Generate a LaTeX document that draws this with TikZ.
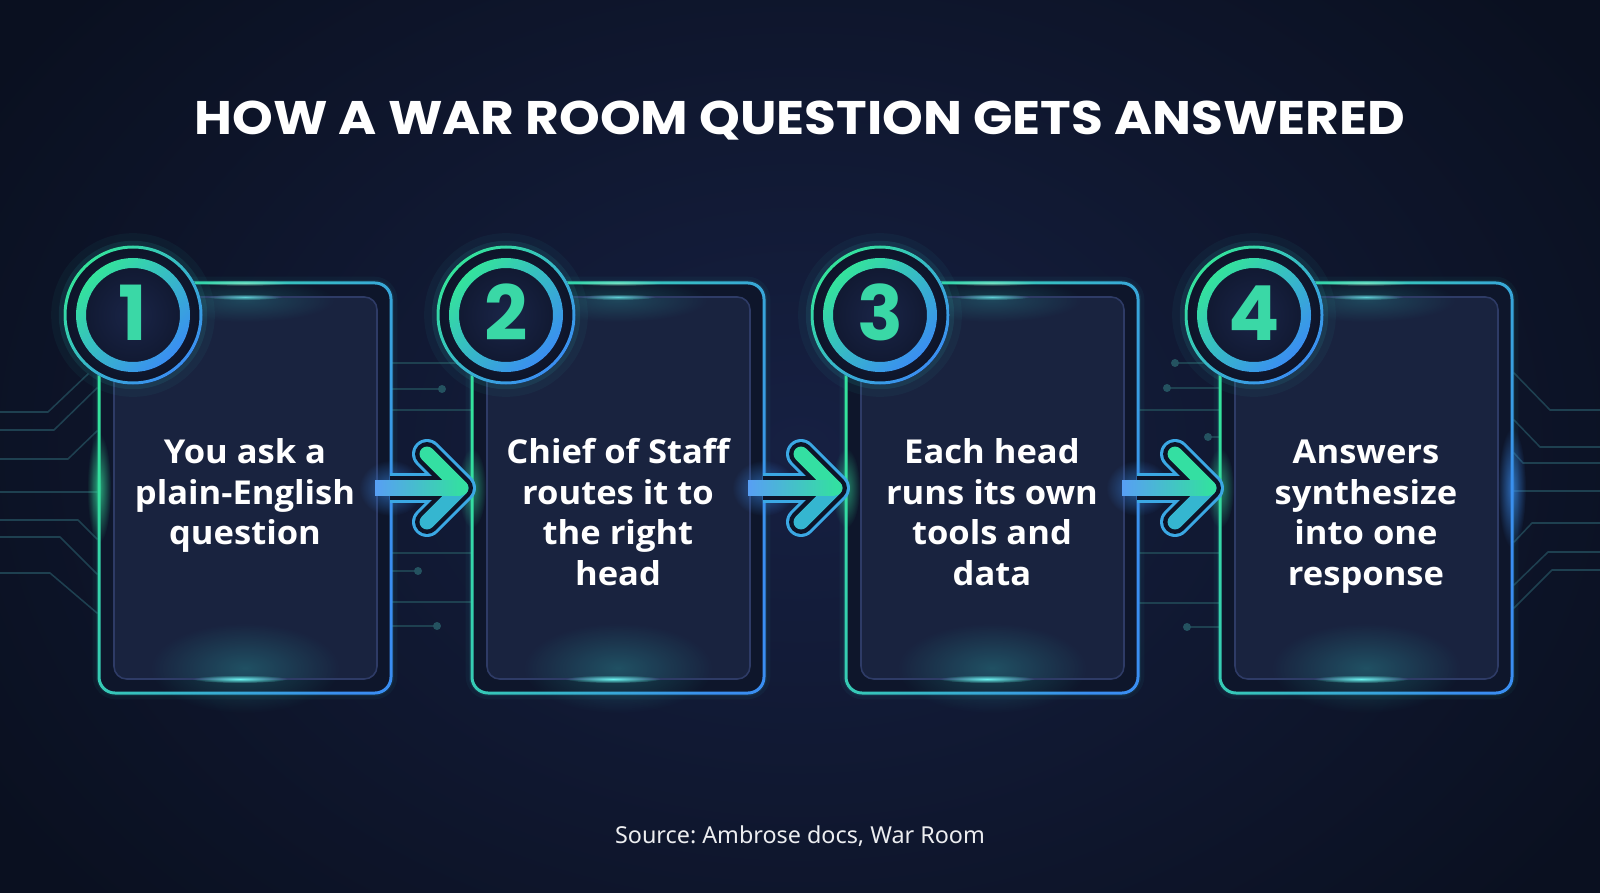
\documentclass[tikz,border=0pt]{standalone}
\usepackage{fontspec}
\setmainfont{Noto Sans}
\newfontfamily\titlefont{Poppins}
\newfontfamily\cardfont{Open Sans}[FakeStretch=1.05]
\usetikzlibrary{fadings}
\frenchspacing
\definecolor{bgin}{HTML}{162042}
\definecolor{bgout}{HTML}{0A1020}
\definecolor{cgreen}{HTML}{34E39C}
\definecolor{cblue}{HTML}{3A8EF2}
\definecolor{cteal}{HTML}{33C7C2}
\definecolor{panelc}{HTML}{19233F}
\definecolor{panelline}{HTML}{2E3B66}
\definecolor{framec}{HTML}{0E162B}
\definecolor{circuitc}{HTML}{1E4050}
\definecolor{dotc}{HTML}{245260}
\definecolor{numc}{HTML}{3AD8A6}
\definecolor{glowc}{HTML}{6AF5F0}
\definecolor{arrowline}{HTML}{3BA8E4}
\definecolor{darkc}{HTML}{0D1428}
\definecolor{circin}{HTML}{1A2548}
\tikzfading[name=glowfade, inner color=transparent!0, outer color=transparent!100]
\tikzset{
  cardtext/.style={font=\cardfont\bfseries\fontsize{23.4}{29.05}\selectfont, text=white, align=center, inner sep=0pt, anchor=north},
  numtext/.style={font=\titlefont\bfseries\fontsize{54}{54}\selectfont, text=numc, anchor=base, inner sep=0pt},
  pcbline/.style={draw=circuitc, line width=1.1pt},
  cdot/.style={fill=dotc},
  glow/.style={path fading=glowfade},
}
\newcommand\mycard[3]{%
  \pgfmathsetmacro\cR{#1+292}%
  \pgfmathsetmacro\cx{#1+146}%
  \pgfmathsetmacro\ccx{#1+34}%
  \draw[cteal, line width=9pt, opacity=0.05, rounded corners=12pt] (#1,283) rectangle (\cR,693);
  \draw[cteal, line width=4.5pt, opacity=0.08, rounded corners=12pt] (#1,283) rectangle (\cR,693);
  \fill[framec, rounded corners=11pt] (#1,283) rectangle (\cR,693);
  \fill[panelc, rounded corners=9pt] (#1+15,297) rectangle (\cR-14,679);
  \fill[cteal, glow, fill opacity=0.28] (\cx,668) ellipse [x radius=95, y radius=45];
  \fill[cteal, glow, fill opacity=0.22] (\cx,300) ellipse [x radius=90, y radius=22];
  \draw[panelline, line width=1.1pt, rounded corners=9pt] (#1+15,297) rectangle (\cR-14,679);
  \fill[glowc, glow] (\cx-5,679) ellipse [x radius=48, y radius=4];
  \fill[glowc, glow, fill opacity=0.8] (\cx,297) ellipse [x radius=38, y radius=3];
  \shade[even odd rule, top color=cgreen, bottom color=cblue, shading angle=70]
    [rounded corners=12.4pt] (#1-1.5,281.5) rectangle (\cR+1.5,694.5)
    [rounded corners=10.3pt] (#1+1.5,284.5) rectangle (\cR-1.5,691.5);
  \fill[cgreen!50!white, glow, fill opacity=0.6] (\cx,283) ellipse [x radius=45, y radius=3];
  \draw[cteal, line width=14pt, opacity=0.05] (\ccx,315) circle (72);
  \draw[cteal, line width=6pt, opacity=0.1] (\ccx,315) circle (70);
  \shade[inner color=circin, outer color=darkc] (\ccx,315) circle (69.5);
  \shade[even odd rule, top color=cgreen, bottom color=cblue, shading angle=45] (\ccx,315) circle (69.5) (\ccx,315) circle (66.5);
  \shade[even odd rule, top color=cgreen, bottom color=cblue, shading angle=45] (\ccx,315) circle (57) (\ccx,315) circle (47);
  \node[numtext] (num#2) at (\ccx,341) {#2};
  \node[cardtext] (txt#2) at (\cx,434.8) {\rule{0pt}{20pt}#3};
}
\newcommand\myarrow[3]{%
  \pgfmathsetmacro\aT{#2-11}%
  \pgfmathsetmacro\aA{#2-45}%
  \coordinate (as#3) at (#1-1.5,488);
  \coordinate (at#3) at (\aT,488);
  \coordinate (au#3) at (\aA,454);
  \coordinate (ad#3) at (\aA,522);
  \fill[cblue, glow, fill opacity=0.6] (#1,488) ellipse [x radius=32, y radius=28];
  \fill[cgreen, glow, fill opacity=0.55] (#2,488) ellipse [x radius=14, y radius=40];
  \draw[arrowline, line width=21.3pt, line cap=butt] (as#3) -- (at#3);
  \draw[arrowline, line width=21.3pt] (au#3) -- (at#3) -- (ad#3);
  \draw[darkc, line width=17pt, line cap=butt] (as#3) -- (at#3);
  \draw[darkc, line width=17pt] (au#3) -- (at#3) -- (ad#3);
  \draw[cteal!70!cblue, line width=10.6pt] (ad#3) -- (at#3);
  \draw[cgreen!85!cteal, line width=10.6pt] (au#3) -- (at#3);
  \shade[left color=cblue!85!white, right color=cgreen!85!cteal] (#1-16,480.5) rectangle (\aT,495.5);
}
\begin{document}
\begin{tikzpicture}[x=0.025cm, y=-0.025cm, line join=round, line cap=round]
\useasboundingbox (0,0) rectangle (1600,893);
\shade[inner color=bgin, outer color=bgout] (-150,-250) rectangle (1750,1143);
% circuit traces left
\draw[pcbline] (0,412) -- (48,412) -- (88,374);
\draw[pcbline] (0,430) -- (54,430) -- (97,388);
\draw[pcbline] (0,459) -- (68,459) -- (97,431);
\draw[pcbline] (0,492) -- (97,492);
\draw[pcbline] (0,520) -- (78,520) -- (97,539);
\draw[pcbline] (0,537) -- (60,537) -- (97,574);
\draw[pcbline] (0,573) -- (50,573) -- (97,613);
% circuit traces right
\draw[pcbline] (1514,373) -- (1550,410) -- (1600,410);
\draw[pcbline] (1514,420) -- (1540,447) -- (1600,447);
\draw[pcbline] (1514,453) -- (1523,463) -- (1600,463);
\draw[pcbline] (1514,491) -- (1600,491);
\draw[pcbline] (1514,542) -- (1532,523) -- (1600,523);
\draw[pcbline] (1514,585) -- (1548,552) -- (1600,552);
\draw[pcbline] (1514,608) -- (1552,570) -- (1600,570);
% gap 1-2
\draw[pcbline] (391,363) -- (472,363);
\draw[pcbline] (391,389) -- (442,389); \fill[cdot] (442,389) circle (4);
\draw[pcbline] (391,410) -- (472,410);
\draw[pcbline] (391,553) -- (472,553);
\draw[pcbline] (391,571) -- (418,571); \fill[cdot] (418,571) circle (4);
\draw[pcbline] (391,602) -- (472,602);
\draw[pcbline] (391,626) -- (437,626); \fill[cdot] (437,626) circle (4);
% gap 3-4
\draw[pcbline] (1175,363) -- (1220,363); \fill[cdot] (1175,363) circle (4);
\draw[pcbline] (1167,388) -- (1220,388); \fill[cdot] (1167,388) circle (4);
\draw[pcbline] (1140,410) -- (1220,410);
\draw[pcbline] (1208,437) -- (1220,437); \fill[cdot] (1208,437) circle (4);
\draw[pcbline] (1140,553) -- (1220,553);
\draw[pcbline] (1140,603) -- (1220,603);
\draw[pcbline] (1187,627) -- (1220,627); \fill[cdot] (1187,627) circle (4);
% cards
\mycard{99}{1}{You ask a\\plain-English\\question}
\mycard{472}{2}{Chief of Staff\\routes it to\\the right\\head}
\mycard{846}{3}{Each head\\runs its own\\tools and\\data}
\mycard{1220}{4}{Answers\\synthesize\\into one\\response}
% arrows
\myarrow{391}{472}{1}
\myarrow{764}{846}{2}
\myarrow{1138}{1220}{3}
% edge glows
\fill[cgreen, glow, fill opacity=0.7] (99,488) ellipse [x radius=12, y radius=55];
\fill[cblue, glow, fill opacity=0.7] (1512,488) ellipse [x radius=14, y radius=60];
% title and source
\node[font=\titlefont\bfseries\fontsize{33.5}{40}\selectfont, text=white, anchor=base, inner sep=0pt] (title) at (800,135) {\scalebox{1.1}[1]{HOW A WAR ROOM QUESTION GETS ANSWERED}};
\node[font=\fontsize{16.6}{20}\selectfont, text=white!92!bgin, anchor=base, inner sep=0pt] (src) at (800,843) {Source: Ambrose docs, War Room};
\end{tikzpicture}
\end{document}
